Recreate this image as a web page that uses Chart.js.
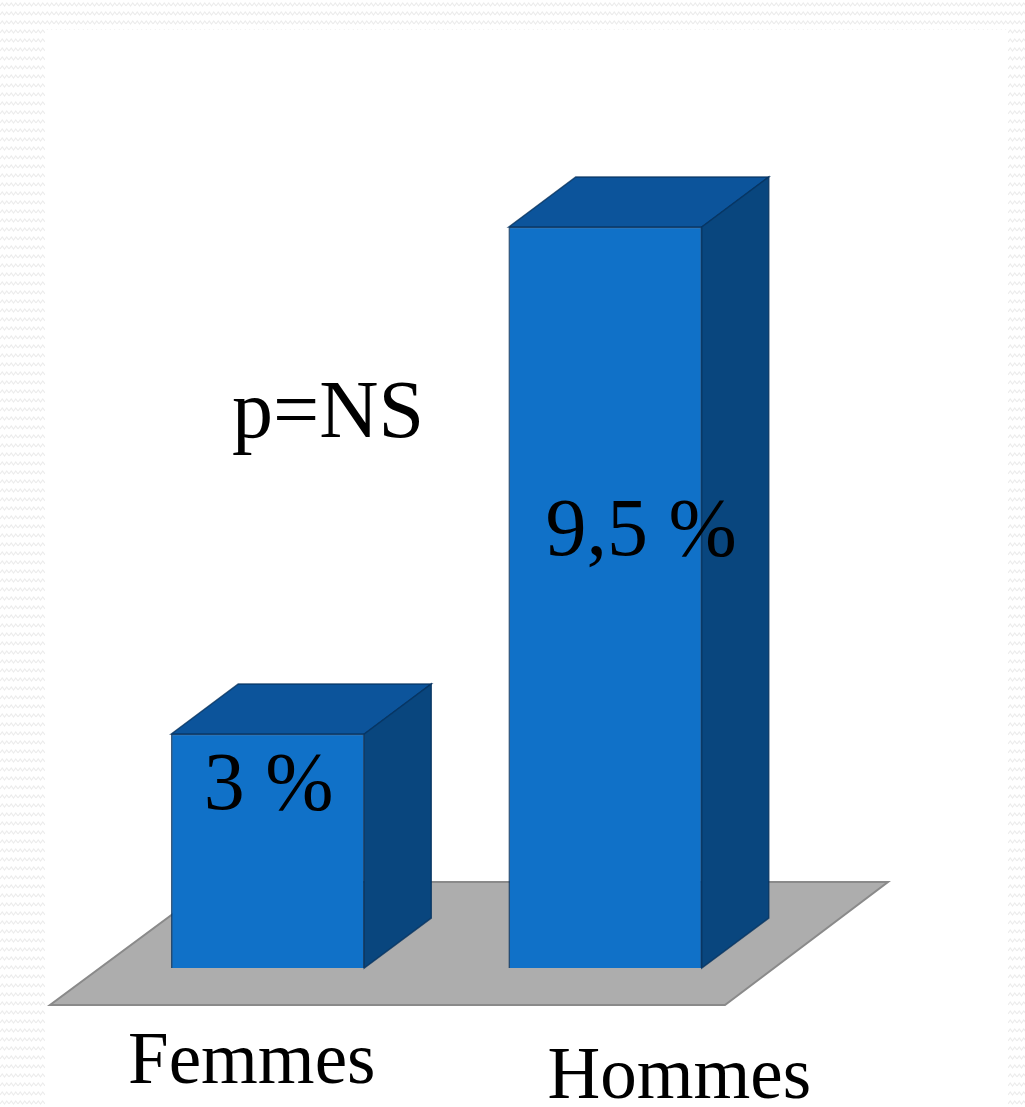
<!DOCTYPE html>
<html>
<head>
<meta charset="utf-8">
<script src="https://cdn.jsdelivr.net/npm/chart.js@4"></script>
<style>
  html, body { margin: 0; padding: 0; background: #fff; }
  canvas { display: block; }
</style>
</head>
<body>
<canvas id="sexChart" width="1025" height="1107"></canvas>
<script>
const categories = ['Femmes', 'Hommes'];
const percentages = [3, 9.5];
const pValueText = 'p=NS';

const FRONT = 'rgb(16, 113, 200)';
const TOP = 'rgb(12, 84, 155)';
const SIDE = 'rgb(9, 70, 126)';
const DEPTH_X = 67;
const DEPTH_Y = 50;

// label placement tweaks
const labelOffsets = [{ dx: -16, y: 1083 }, { dx: 74, y: 1098 }];
const valueOffsets = [{ dx: 1, dy: 75 }, { dx: 36, dy: 328 }];

// faint zigzag tile for the slide border
function zigzagPattern(ctx) {
    const tile = document.createElement('canvas');
    tile.width = 9;
    tile.height = 9;
    const t = tile.getContext('2d');
    t.fillStyle = '#ffffff';
    t.fillRect(0, 0, 9, 9);
    t.strokeStyle = '#ececec';
    t.lineWidth = 1.2;
    t.beginPath();
    t.moveTo(0, 6);
    t.lineTo(2.25, 3);
    t.lineTo(4.5, 6);
    t.lineTo(6.75, 3);
    t.lineTo(9, 6);
    t.stroke();
    return ctx.createPattern(tile, 'repeat');
}

const frame3d = {
    id: 'frame3d',
    beforeDraw(chart) {
        const ctx = chart.ctx;
        ctx.save();
        ctx.fillStyle = zigzagPattern(ctx);
        ctx.fillRect(0, 0, chart.width, chart.height);
        ctx.fillStyle = '#ffffff';
        ctx.fillRect(45, 30, 963, chart.height - 30);
        ctx.restore();
    },
    beforeDatasetsDraw(chart) {
        const { ctx, chartArea } = chart;
        const base = chart.scales.y.getPixelForValue(0);
        ctx.save();
        ctx.beginPath();
        ctx.moveTo(chartArea.left - 49, base + 37);
        ctx.lineTo(chartArea.right - 49, base + 37);
        ctx.lineTo(chartArea.right + 114, base - 86);
        ctx.lineTo(chartArea.left + 117, base - 86);
        ctx.closePath();
        ctx.fillStyle = '#adadad';
        ctx.fill();
        ctx.strokeStyle = '#8a8a8a';
        ctx.lineWidth = 2;
        ctx.stroke();
        ctx.restore();
    },
    afterDatasetsDraw(chart) {
        const ctx = chart.ctx;
        const meta = chart.getDatasetMeta(0);
        ctx.save();
        meta.data.forEach((bar, i) => {
            const left = bar.x - bar.width / 2;
            const right = bar.x + bar.width / 2;
            const top = bar.y;
            const bottom = bar.base;

            ctx.beginPath();
            ctx.moveTo(left, top);
            ctx.lineTo(left + DEPTH_X, top - DEPTH_Y);
            ctx.lineTo(right + DEPTH_X, top - DEPTH_Y);
            ctx.lineTo(right, top);
            ctx.closePath();
            ctx.fillStyle = TOP;
            ctx.fill();
            ctx.strokeStyle = 'rgba(5, 50, 95, 0.8)';
            ctx.lineWidth = 1.5;
            ctx.stroke();

            ctx.beginPath();
            ctx.moveTo(right, top);
            ctx.lineTo(right + DEPTH_X, top - DEPTH_Y);
            ctx.lineTo(right + DEPTH_X, bottom - DEPTH_Y);
            ctx.lineTo(right, bottom);
            ctx.closePath();
            ctx.fillStyle = SIDE;
            ctx.fill();
            ctx.stroke();

            // value label
            ctx.fillStyle = '#000';
            ctx.font = '82px "Liberation Serif", "Times New Roman", serif';
            ctx.textAlign = 'center';
            ctx.textBaseline = 'alphabetic';
            const txt = String(percentages[i]).replace('.', ',') + ' %';
            ctx.fillText(txt, bar.x + valueOffsets[i].dx, top + valueOffsets[i].dy);

            // category label
            ctx.font = '73px "Liberation Serif", "Times New Roman", serif';
            ctx.fillText(categories[i], bar.x + labelOffsets[i].dx, labelOffsets[i].y);
        });

        ctx.font = '82px "Liberation Serif", "Times New Roman", serif';
        ctx.textAlign = 'center';
        ctx.fillText(pValueText, 328, 437);
        ctx.restore();
    }
};

const sexChart = document.getElementById('sexChart');

new Chart(sexChart, {
    type: 'bar',
    data: {
        labels: categories,
        datasets: [{
            label: 'Pourcentage',
            data: percentages,
            backgroundColor: FRONT,
            borderColor: 'rgba(5, 50, 95, 0.8)',
            borderWidth: 1.5,
            barThickness: 193
        }]
    },
    options: {
        responsive: false,
        animation: false,
        layout: {
            padding: { left: 99, right: 251, top: 32, bottom: 139 }
        },
        scales: {
            x: { display: false },
            y: { display: false, min: 0, max: 12 }
        },
        plugins: {
            legend: { display: false },
            tooltip: { enabled: false }
        }
    },
    plugins: [frame3d]
});
</script>
</body>
</html>
